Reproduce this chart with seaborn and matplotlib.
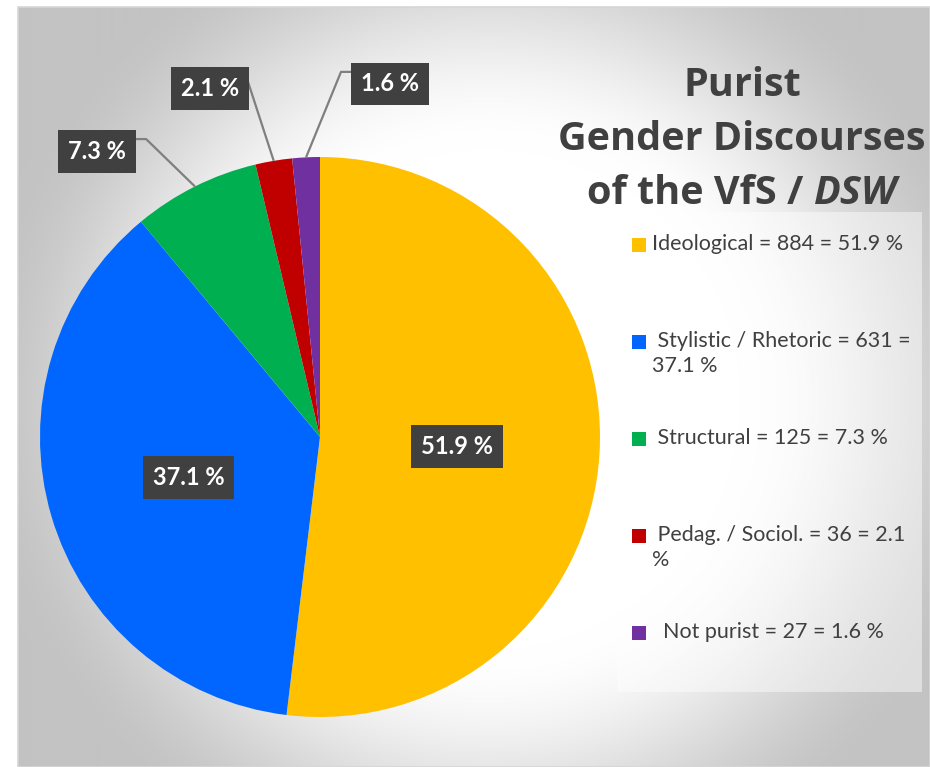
import numpy as np
import matplotlib
matplotlib.use("Agg")
import matplotlib.pyplot as plt
from matplotlib.patches import Rectangle
import seaborn as sns

# ---------------- data ----------------
categories = ["Ideological", "Stylistic / Rhetoric", "Structural", "Pedag. / Sociol.", "Not purist"]
counts = [884, 631, 125, 36, 27]
pct_labels = ["51.9 %", "37.1 %", "7.3 %", "2.1 %", "1.6 %"]
legend_labels = [
    "Ideological = 884 = 51.9 %",
    " Stylistic / Rhetoric = 631 =\n37.1 %",
    " Structural = 125 = 7.3 %",
    " Pedag. / Sociol. = 36 = 2.1\n%",
    "  Not purist = 27 = 1.6 %",
]
slice_colors = ["#FFC000", "#0066FF", "#00B050", "#C00000", "#7030A0"]

sns.set_theme(style="white")
plt.rcParams["font.family"] = ["Lato", "DejaVu Sans"]

W, H = 930, 767
fig = plt.figure(figsize=(W / 100, H / 100), dpi=100)
fig.patch.set_facecolor("white")

# ---------------- background (radial gradient) ----------------
bg = fig.add_axes([0, 0, 1, 1])
bg.set_xlim(0, W)
bg.set_ylim(H, 0)
bg.axis("off")
x0, y0 = 18, 7
xx, yy = np.meshgrid(np.arange(x0, W) + 0.5, np.arange(y0, H) + 0.5)
r = np.hypot(xx - 490, yy - 400)
t = np.clip((r - 250) / (520 - 250), 0, 1)
s = 3 * t ** 2 - 2 * t ** 3
val = (255 - 60 * s) / 255.0
img = np.dstack([val, val, val])
bg.imshow(img, extent=(x0, W, H, y0), interpolation="bilinear", aspect="auto", zorder=0)
bg.add_patch(Rectangle((x0, y0), W - x0, H - y0, fill=False, ec="#d6d6d6", lw=1.2, zorder=1))
# legend background panel
bg.add_patch(Rectangle((617, 212), 305, 480, fc="white", ec="none", alpha=0.45, zorder=2))

# ---------------- pie ----------------
cx, cy, R = 320, 437, 280
ax = fig.add_axes([(cx - R) / W, (H - cy - R) / H, 2 * R / W, 2 * R / H])
palette = sns.color_palette(slice_colors)
wedges, _ = ax.pie(counts, colors=palette, startangle=90, counterclock=False,
                   radius=1.0, wedgeprops=dict(linewidth=0))
ax.set_xlim(-1, 1)
ax.set_ylim(-1, 1)
ax.set_aspect("equal")
ax.axis("off")

box = dict(boxstyle="square,pad=0.42", fc="#404040", ec="none")
lab_kw = dict(color="white", fontsize=17, fontweight="bold", ha="center", va="center",
              bbox=box, zorder=5, clip_on=False)

mid_angles = [np.deg2rad((w.theta1 + w.theta2) / 2) for w in wedges]

# inside labels
for i in (0, 1):
    a = mid_angles[i]
    ax.text(0.49 * np.cos(a), 0.49 * np.sin(a) - 0.005, pct_labels[i], **lab_kw)

# outside labels with leader lines
out_pos = {2: (-0.796, 1.021), 3: (-0.393, 1.246), 4: (0.25, 1.261)}
elbows = {2: [(-0.621, 1.064), (-0.66, 1.064)],
          3: [(-0.257, 1.268)],
          4: [(0.075, 1.304), (0.118, 1.304)]}
for i, (tx, ty) in out_pos.items():
    a = mid_angles[i]
    pts = [(np.cos(a), np.sin(a))] + elbows[i]
    ax.plot([p[0] for p in pts], [p[1] for p in pts], color="#7f7f7f", lw=1.6,
            clip_on=False, zorder=4, solid_capstyle="butt")
    ax.text(tx, ty, pct_labels[i], **lab_kw)

# ---------------- title ----------------
tcol = "#404040"
tfont = ["Open Sans", "DejaVu Sans"]
tsize = 28.5
fig.text(742 / W, 1 - 85 / H, "Purist", ha="center", va="center", fontsize=tsize,
         fontweight="bold", color=tcol, family=tfont)
fig.text(742 / W, 1 - 139 / H, "Gender Discourses", ha="center", va="center", fontsize=tsize,
         fontweight="bold", color=tcol, family=tfont)
t1 = fig.text(0, 1 - 193 / H, "of the VfS / ", ha="left", va="center", fontsize=tsize,
              fontweight="bold", color=tcol, family=tfont)
t2 = fig.text(0, 1 - 193 / H, "DSW", ha="left", va="center", fontsize=tsize,
              fontweight="bold", fontstyle="italic", color=tcol, family=tfont)
renderer = fig.canvas.get_renderer()
w1 = t1.get_window_extent(renderer).width
w2 = t2.get_window_extent(renderer).width
start = 742 - (w1 + w2) / 2
t1.set_x(start / W)
t2.set_x((start + w1) / W)

# ---------------- legend (entries evenly spaced, handle on first line) ----------------
leg_x, leg_y0, leg_step = 632, 245, 97
for i, (lab, col) in enumerate(zip(legend_labels, palette)):
    yc = leg_y0 + leg_step * i
    bg.add_patch(Rectangle((leg_x, yc - 7), 14, 14, fc=col, ec="none", zorder=3))
    bg.text(leg_x + 20, yc - 11, lab, ha="left", va="top", fontsize=15.5, color=tcol,
            linespacing=1.32, zorder=3)

fig.savefig("out.png", dpi=100)
